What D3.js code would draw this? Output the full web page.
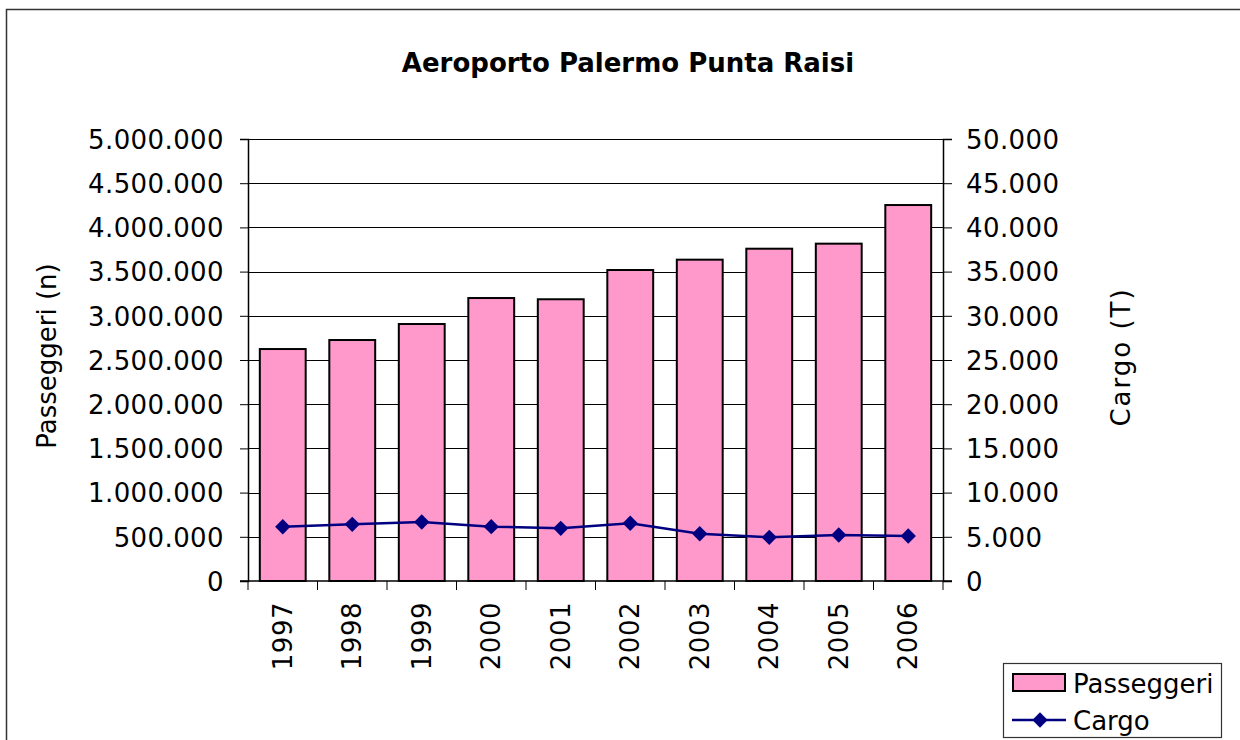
<!DOCTYPE html>
<html>
<head>
<meta charset="utf-8">
<script src="https://cdn.jsdelivr.net/npm/d3@7"></script>
<style>
  body { margin: 0; background: #fff; }
  svg text { font-family: "DejaVu Sans", Verdana, sans-serif; fill: #000; }
</style>
</head>
<body>
<svg id="chart" width="1240" height="740"></svg>
<script>
// chart data
var years = ['1997', '1998', '1999', '2000', '2001', '2002', '2003', '2004', '2005', '2006'];
var passeggeri = [2624000, 2726000, 2907000, 3201000, 3187000, 3518000, 3635000, 3759000, 3816000, 4253000];
var cargo = [6140, 6410, 6670, 6150, 5960, 6530, 5350, 4940, 5200, 5090];
var leftTicks = [0, 500000, 1000000, 1500000, 2000000, 2500000, 3000000, 3500000, 4000000, 4500000, 5000000];
var rightTicks = [0, 5000, 10000, 15000, 20000, 25000, 30000, 35000, 40000, 45000, 50000];

var svg = d3.select('#chart');
var margin = { left: 248, right: 943, top: 139, bottom: 581 };

var fmt = function (v) {
  return String(v).replace(/\B(?=(\d{3})+(?!\d))/g, '.');
};

// outer frame
svg.append('rect')
  .attr('x', 6.5).attr('y', 9.5)
  .attr('width', 1250).attr('height', 750)
  .attr('fill', 'none')
  .attr('stroke', '#333')
  .attr('stroke-width', 1.5);

var x = d3.scaleBand().domain(years).range([margin.left, margin.right]).paddingInner(0.34).paddingOuter(0.17);
var xTick = d3.scaleBand().domain(years).range([margin.left, margin.right]);
var yL = d3.scaleLinear().domain([0, 5000000]).range([margin.bottom, margin.top]);
var yR = d3.scaleLinear().domain([0, 50000]).range([margin.bottom, margin.top]);

// gridlines
svg.append('g').selectAll('line')
  .data(leftTicks.slice(1))
  .enter().append('line')
  .attr('x1', margin.left).attr('x2', margin.right)
  .attr('y1', function (d) { return Math.round(yL(d)) + 0.5; })
  .attr('y2', function (d) { return Math.round(yL(d)) + 0.5; })
  .attr('stroke', '#000')
  .attr('stroke-width', 1);

// bars
svg.append('g').selectAll('rect')
  .data(passeggeri)
  .enter().append('rect')
  .attr('x', function (d, i) { return x(years[i]); })
  .attr('y', function (d) { return yL(d); })
  .attr('width', x.bandwidth())
  .attr('height', function (d) { return yL(0) - yL(d); })
  .attr('fill', '#ff99cc')
  .attr('stroke', '#000')
  .attr('stroke-width', 2);

// left axis
var axL = d3.axisLeft(yL).tickValues(leftTicks).tickFormat(fmt).tickSize(8).tickPadding(16);
var gL = svg.append('g').attr('transform', 'translate(' + margin.left + ',0)').call(axL);
// right axis
var axR = d3.axisRight(yR).tickValues(rightTicks).tickFormat(fmt).tickSize(9).tickPadding(14);
var gR = svg.append('g').attr('transform', 'translate(' + margin.right + ',0)').call(axR);
// bottom axis
var gB = svg.append('g').attr('transform', 'translate(0,' + margin.bottom + ')');
gB.append('line')
  .attr('x1', margin.left - 8).attr('x2', margin.right + 9)
  .attr('y1', 0).attr('y2', 0)
  .attr('stroke', '#000').attr('stroke-width', 1.5);
gB.selectAll('line.tick')
  .data(years.concat(['end']))
  .enter().append('line')
  .classed('tick', true)
  .attr('x1', function (d, i) { return margin.left + i * xTick.step(); })
  .attr('x2', function (d, i) { return margin.left + i * xTick.step(); })
  .attr('y1', 0).attr('y2', 9)
  .attr('stroke', '#000').attr('stroke-width', 1);
gB.selectAll('text')
  .data(years)
  .enter().append('text')
  .attr('transform', function (d) {
    return 'translate(' + (xTick(d) + xTick.bandwidth() / 2 + 9) + ',21) rotate(-90)';
  })
  .attr('text-anchor', 'end')
  .style('font-size', '26px')
  .style('letter-spacing', '0.5px')
  .text(function (d) { return d; });

[gL, gR].forEach(function (g) {
  g.select('.domain').attr('stroke', '#000').attr('stroke-width', 1.5);
  g.selectAll('.tick line').attr('stroke', '#000');
  g.selectAll('.tick text')
    .style('font-size', '26px')
    .style('font-family', '"DejaVu Sans", Verdana, sans-serif')
    .style('letter-spacing', '0.4px')
    .attr('dy', '0.36em');
});

// cargo line
var cx = function (i) { return xTick(years[i]) + xTick.bandwidth() / 2; };
var line = d3.line()
  .x(function (d, i) { return cx(i); })
  .y(function (d) { return yR(d); });
svg.append('path')
  .datum(cargo)
  .attr('d', line)
  .attr('fill', 'none')
  .attr('stroke', '#000080')
  .attr('stroke-width', 2.5);
var diamond = d3.symbol().type(d3.symbolDiamond2).size(150);
svg.append('g').selectAll('path')
  .data(cargo)
  .enter().append('path')
  .attr('d', diamond)
  .attr('transform', function (d, i) { return 'translate(' + cx(i) + ',' + yR(d) + ')'; })
  .attr('fill', '#000080');

// titles
svg.append('text')
  .attr('x', 628).attr('y', 72)
  .attr('text-anchor', 'middle')
  .style('font-size', '26px')
  .style('font-weight', 'bold')
  .text('Aeroporto Palermo Punta Raisi');
svg.append('text')
  .attr('transform', 'translate(56,356) rotate(-90)')
  .attr('text-anchor', 'middle')
  .style('font-size', '26px')
  .text('Passeggeri (n)');
svg.append('text')
  .attr('transform', 'translate(1130,357) rotate(-90)')
  .attr('text-anchor', 'middle')
  .style('font-size', '26px')
  .style('letter-spacing', '2px')
  .text('Cargo (T)');

// legend
var leg = svg.append('g');
leg.append('rect')
  .attr('x', 1003.5).attr('y', 663.5)
  .attr('width', 218).attr('height', 74)
  .attr('fill', '#fff').attr('stroke', '#333').attr('stroke-width', 1.2);
leg.append('rect')
  .attr('x', 1013).attr('y', 674)
  .attr('width', 52).attr('height', 17)
  .attr('fill', '#ff99cc').attr('stroke', '#000').attr('stroke-width', 2);
leg.append('text').attr('x', 1073).attr('y', 693).style('font-size', '26px').text('Passeggeri');
leg.append('line')
  .attr('x1', 1012).attr('x2', 1066).attr('y1', 720).attr('y2', 720)
  .attr('stroke', '#000080').attr('stroke-width', 2.5);
leg.append('path')
  .attr('d', diamond)
  .attr('transform', 'translate(1040,720)')
  .attr('fill', '#000080');
leg.append('text').attr('x', 1073).attr('y', 730).style('font-size', '26px').text('Cargo');
</script>
</body>
</html>
